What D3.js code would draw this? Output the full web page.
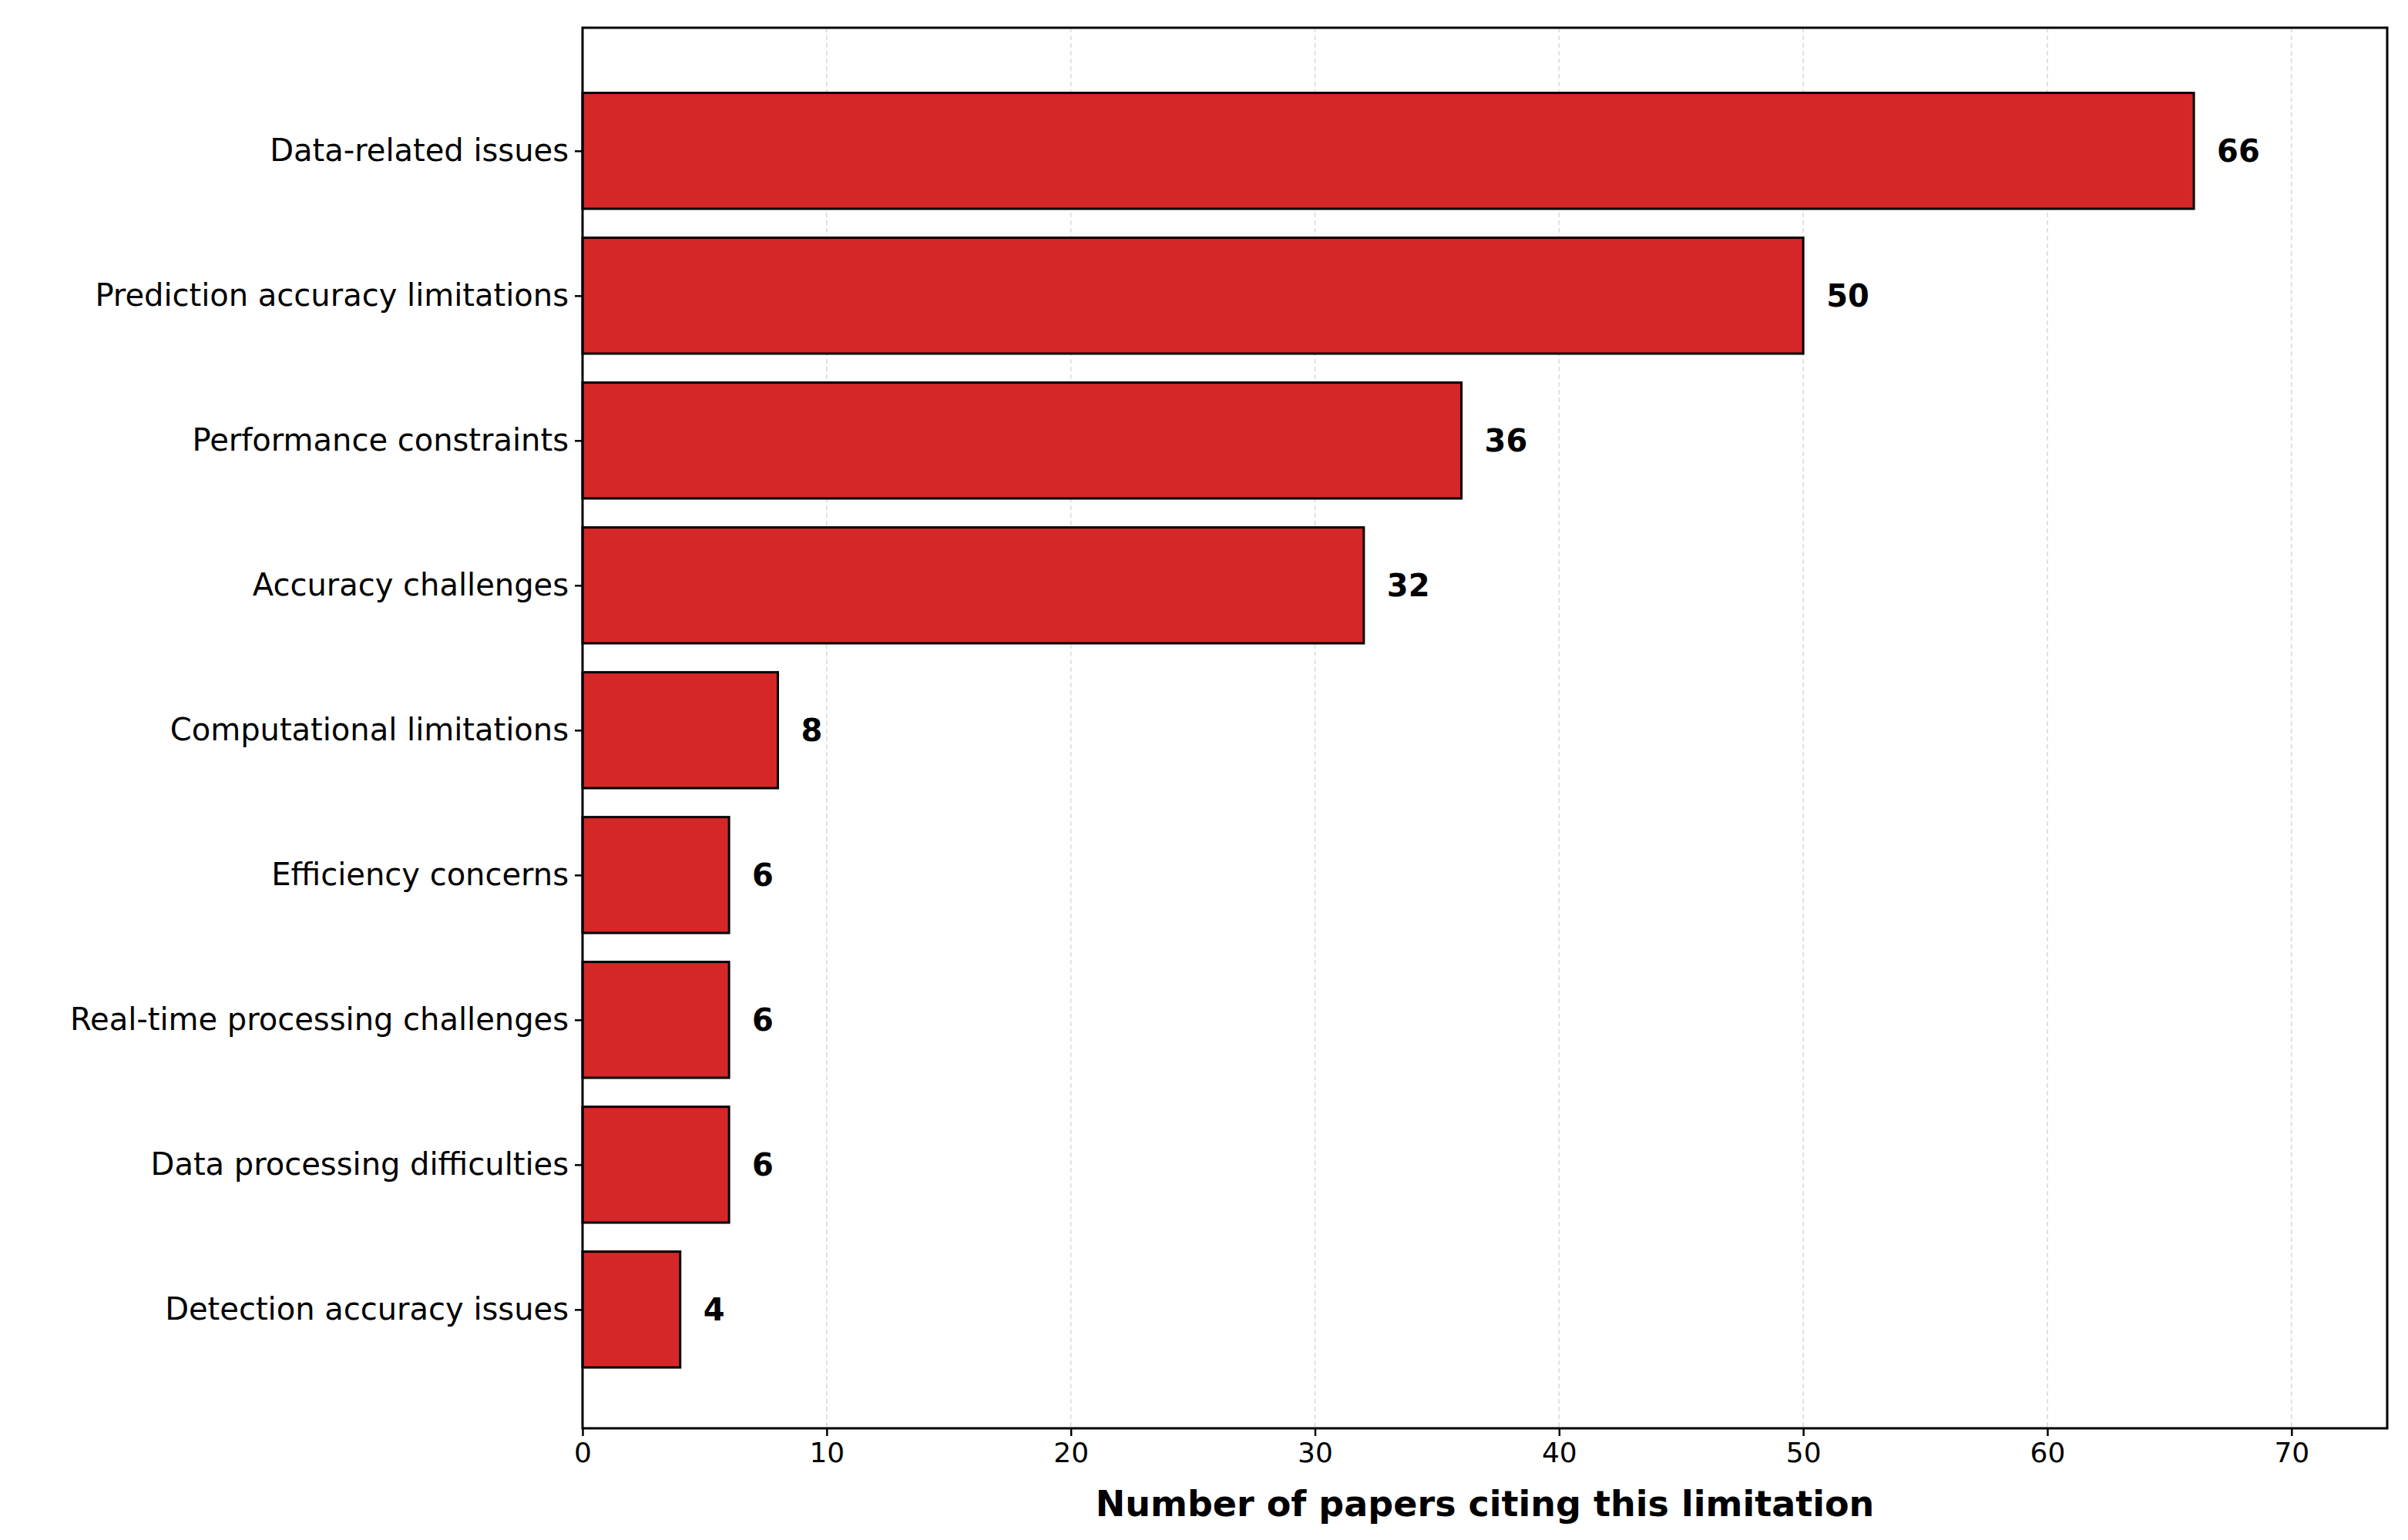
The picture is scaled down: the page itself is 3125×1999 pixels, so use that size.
<!DOCTYPE html>
<html>
<head>
<meta charset="utf-8">
<script src="https://cdn.jsdelivr.net/npm/d3@7"></script>
<style>
  body { margin: 0; background: #fff; }
  text { font-family: "DejaVu Sans", sans-serif; }
</style>
</head>
<body>
<svg id="chart" width="3125" height="1999"></svg>
<script>
const categories = [
  'Data-related issues',
  'Prediction accuracy limitations',
  'Performance constraints',
  'Accuracy challenges',
  'Computational limitations',
  'Efficiency concerns',
  'Real-time processing challenges',
  'Data processing difficulties',
  'Detection accuracy issues'
];
const counts = [66, 50, 36, 32, 8, 6, 6, 6, 4];
const xTicks = [0, 10, 20, 30, 40, 50, 60, 70];

const margin = { top: 36, right: 27, bottom: 145, left: 756 };
const width = 3125, height = 1999;

const svg = d3.select('#chart');

const x = d3.scaleLinear()
  .domain([0, 73.92])
  .range([margin.left, width - margin.right]);

// bar index runs top to bottom, matplotlib-style padding
const y = d3.scaleLinear()
  .domain([-0.85, categories.length - 1 + 0.82])
  .range([margin.top, height - margin.bottom]);

const barH = y(0.4) - y(-0.4);

// grid
svg.append('g')
  .selectAll('line')
  .data(xTicks)
  .join('line')
  .attr('x1', d => x(d)).attr('x2', d => x(d))
  .attr('y1', margin.top).attr('y2', height - margin.bottom)
  .attr('stroke', '#cccccc')
  .attr('stroke-width', 1.6)
  .attr('stroke-dasharray', '6,4')
  .attr('opacity', 0.7);

// bars
svg.append('g')
  .selectAll('rect')
  .data(counts)
  .join('rect')
  .attr('x', x(0))
  .attr('y', (d, i) => y(i) - barH / 2)
  .attr('width', d => x(d) - x(0))
  .attr('height', barH)
  .attr('fill', '#d62728')
  .attr('stroke', '#000')
  .attr('stroke-width', 3);

// value labels
svg.append('g')
  .selectAll('text')
  .data(counts)
  .join('text')
  .attr('x', d => x(d) + 30)
  .attr('y', (d, i) => y(i))
  .attr('dy', '0.35em')
  .attr('font-size', 40)
  .attr('font-weight', 'bold')
  .text(d => d);

// x axis
const xAxis = d3.axisBottom(x).tickValues(xTicks).tickSize(10).tickPadding(8);
const gx = svg.append('g')
  .attr('transform', `translate(0,${height - margin.bottom})`)
  .call(xAxis);
gx.select('.domain').remove();
gx.selectAll('line').attr('stroke-width', 2.5);
gx.selectAll('text').attr('font-size', 36).attr('font-family', '"DejaVu Sans", sans-serif');

// y axis
const yAxis = d3.axisLeft(y)
  .tickValues(d3.range(categories.length))
  .tickFormat(i => categories[i])
  .tickSize(10).tickPadding(8);
const gy = svg.append('g')
  .attr('transform', `translate(${margin.left},0)`)
  .call(yAxis);
gy.select('.domain').remove();
gy.selectAll('line').attr('stroke-width', 2.5);
gy.selectAll('text').attr('font-size', 40).attr('font-family', '"DejaVu Sans", sans-serif');

// frame
svg.append('rect')
  .attr('x', margin.left).attr('y', margin.top)
  .attr('width', width - margin.right - margin.left)
  .attr('height', height - margin.bottom - margin.top)
  .attr('fill', 'none')
  .attr('stroke', '#000')
  .attr('stroke-width', 3);

// x label
svg.append('text')
  .attr('x', (margin.left + width - margin.right) / 2)
  .attr('y', 1968)
  .attr('text-anchor', 'middle')
  .attr('font-size', 46)
  .attr('font-weight', 'bold')
  .text('Number of papers citing this limitation');
</script>
</body>
</html>
